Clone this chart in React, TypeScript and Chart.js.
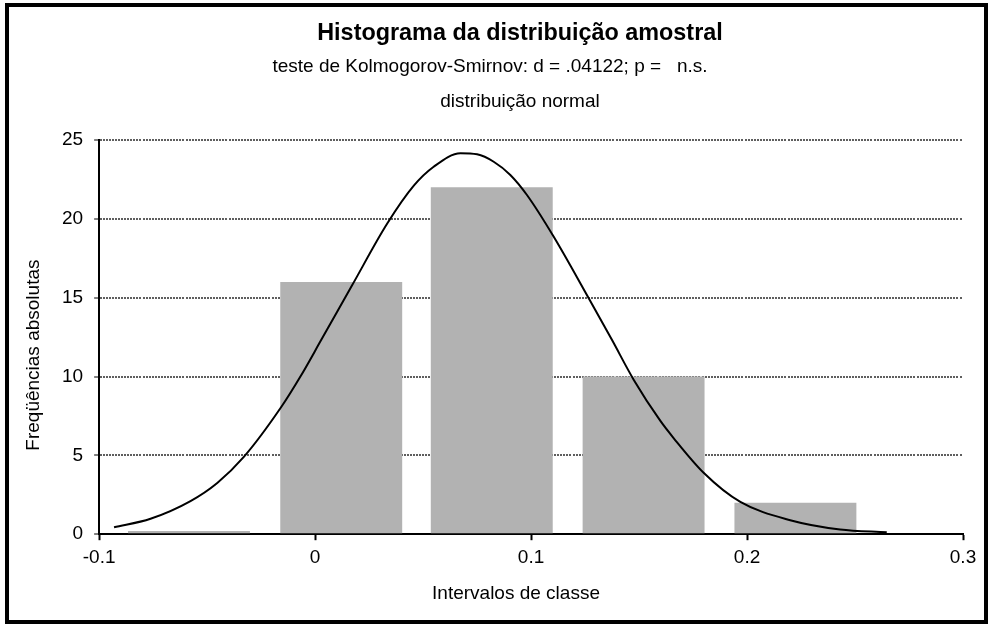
import React, { useEffect, useRef } from "react";
import { Chart, registerables } from "chart.js";

Chart.register(...registerables);

// ---- data ----
const binCenters = [-0.0584, 0.0121, 0.0818, 0.1521, 0.2224];
const frequencies = [0.2, 16, 22, 10, 2];

const curveX = [
  -0.0931, -0.0762, -0.0577, -0.0453, -0.033, -0.016, -0.0068, 0.0028, 0.0172,
  0.0334, 0.0457, 0.0549, 0.0673, 0.075, 0.0827, 0.0904, 0.0981, 0.1105,
  0.1267, 0.1375, 0.1475, 0.1598, 0.166, 0.1799, 0.1969, 0.22, 0.2431, 0.2647,
];
const curveY = [
  0.44, 0.98, 2.1, 3.25, 4.9, 8.0, 10.0, 12.31, 15.8, 19.7, 22.1, 23.3,
  24.16, 24.09, 23.62, 22.78, 21.51, 18.86, 14.96, 12.31, 9.8, 7.2, 6.1,
  3.9, 2.05, 0.89, 0.3, 0.12,
];

const xTickLabels = ["-0.1", "0", "0.1", "0.2", "0.3"];
const xMin = -0.1;
const xMax = 0.3;
const xStep = 0.1;
const yMin = 0;
const yMax = 25;
const yStep = 5;

const titleText = "Histograma da distribuição amostral";
const subtitleLines = [
  "teste de Kolmogorov-Smirnov: d = .04122; p =   n.s.",
  "distribuição normal",
];
const xTitle = "Intervalos de classe";
const yTitle = "Freqüências absolutas";

const FONT = "'Liberation Sans', Arial, sans-serif";

// textured gray grid with a small break every ~40px
const gridDash: number[] = [];
for (let i = 0; i < 13; i++) gridDash.push(2, 1);
gridDash.push(2, 2);

const textPlugin = {
  id: "textPlugin",
  afterDraw(chart: any) {
    const ctx = chart.ctx as CanvasRenderingContext2D;
    const area = chart.chartArea;
    ctx.save();
    ctx.fillStyle = "#000";
    ctx.textAlign = "center";
    ctx.textBaseline = "middle";
    ctx.font = `bold 23.4px ${FONT}`;
    ctx.fillText(titleText, 520, 34);
    ctx.font = `19px ${FONT}`;
    ctx.fillText(subtitleLines[0], 490, 67);
    ctx.fillText(subtitleLines[1], 520, 102);
    ctx.fillText(xTitle, 516, 594);
    ctx.translate(34, (area.top + area.bottom) / 2 + 18);
    ctx.rotate(-Math.PI / 2);
    ctx.fillText(yTitle, 0, 0);
    ctx.restore();
  },
};

export default function App() {
  const canvasRef = useRef<HTMLCanvasElement | null>(null);

  useEffect(() => {
    const canvas = canvasRef.current;
    if (!canvas) return;
    const chart = new Chart(canvas, {
      type: "bar",
      data: {
        datasets: [
          {
            type: "line",
            data: curveX.map((x, i) => ({ x, y: curveY[i] })),
            borderColor: "#000",
            borderWidth: 2,
            pointRadius: 0,
            cubicInterpolationMode: "monotone",
            fill: false,
            order: 0,
          } as any,
          {
            type: "bar",
            data: binCenters.map((x, i) => ({ x, y: frequencies[i] })),
            backgroundColor: "#b2b2b2",
            borderWidth: 0,
            barPercentage: 0.81,
            categoryPercentage: 1,
            order: 1,
          },
        ],
      },
      options: {
        animation: false,
        responsive: false,
        devicePixelRatio: 1,
        font: { family: FONT, size: 19 },
        layout: { padding: { left: 51, right: 28, top: 140, bottom: 49 } },
        plugins: {
          legend: { display: false },
          tooltip: { enabled: false },
          title: { display: false },
        },
        scales: {
          x: {
            type: "linear",
            min: xMin,
            max: xMax,
            offset: false,
            grid: {
              offset: false,
              drawOnChartArea: false,
              drawTicks: true,
              tickLength: 6,
              tickColor: "#000",
              tickWidth: 2,
            },
            border: { display: true, color: "#000", width: 2 },
            ticks: {
              stepSize: xStep,
              color: "#000",
              padding: 6,
              font: { family: FONT, size: 19 },
              maxRotation: 0,
              callback: (v: any) =>
                xTickLabels[Math.round((Number(v) - xMin) / xStep)] ?? "",
            },
          },
          y: {
            type: "linear",
            min: yMin,
            max: yMax,
            grid: {
              color: "#5f5f5f",
              lineWidth: 2,
              drawTicks: true,
              tickLength: 5,
              tickColor: "#000",
              tickWidth: 1,
              tickBorderDash: [],
            },
            border: { display: true, color: "#000", width: 2, dash: gridDash },
            ticks: {
              stepSize: yStep,
              color: "#000",
              padding: 11,
              font: { family: FONT, size: 19 },
            },
          },
        },
      },
      plugins: [textPlugin],
    } as any);
    return () => chart.destroy();
  }, []);

  return (
    <div style={{ position: "absolute", left: 0, top: 0, width: 991, height: 624, background: "#fff" }}>
      <canvas ref={canvasRef} width={991} height={624} style={{ position: "absolute", left: 0, top: 0 }} />
      <div
        style={{
          position: "absolute",
          left: 5,
          top: 3,
          width: 983,
          height: 621,
          border: "4px solid #000",
          boxSizing: "border-box",
          pointerEvents: "none",
        }}
      />
    </div>
  );
}
